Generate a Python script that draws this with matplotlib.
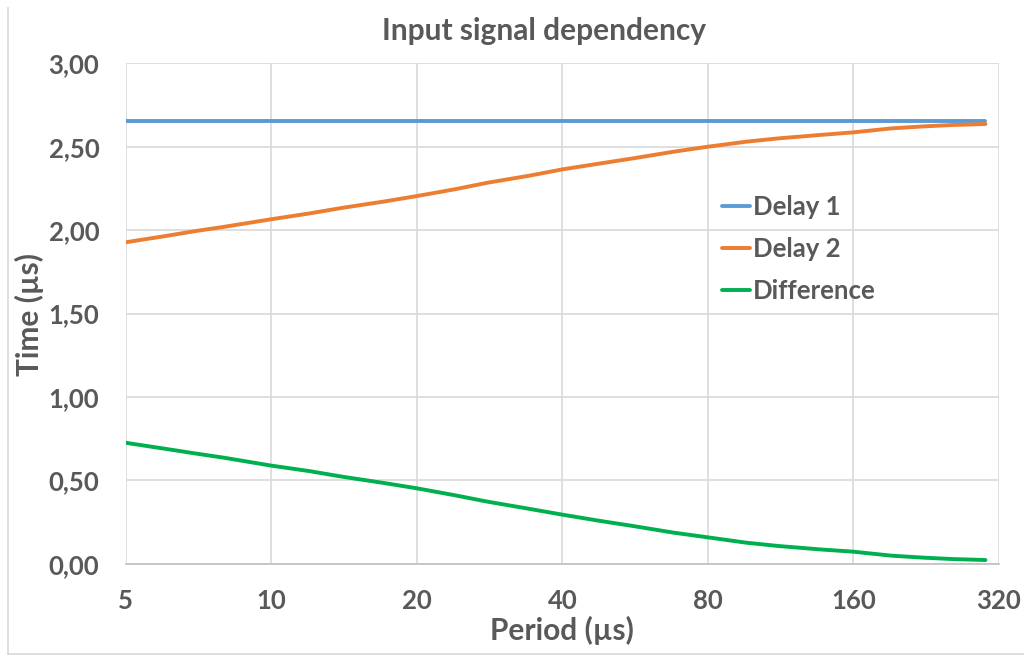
import matplotlib
matplotlib.use("Agg")
import matplotlib.pyplot as plt
from matplotlib.ticker import FuncFormatter, NullLocator
from matplotlib.lines import Line2D

plt.rcParams['font.family'] = ['Lato', 'DejaVu Sans']
plt.rcParams['font.weight'] = 'bold'

# data
period = [5, 6, 7, 8, 10, 12, 14, 17, 20, 24, 28, 34, 40, 48, 56, 68, 80,
          96, 112, 136, 160, 192, 224, 256, 300]
delay1 = [2.655] * len(period)
delay2 = [1.927, 1.963, 1.995, 2.020, 2.065, 2.100, 2.133, 2.170, 2.204,
          2.245, 2.284, 2.325, 2.364, 2.400, 2.430, 2.470, 2.500, 2.530,
          2.550, 2.570, 2.586, 2.610, 2.622, 2.630, 2.636]
difference = [0.725, 0.690, 0.660, 0.635, 0.588, 0.555, 0.522, 0.485, 0.452,
              0.410, 0.372, 0.330, 0.294, 0.256, 0.226, 0.186, 0.158, 0.126,
              0.106, 0.086, 0.072, 0.048, 0.036, 0.028, 0.022]
xticks = [5, 10, 20, 40, 80, 160, 320]
yticks = [0, 0.5, 1.0, 1.5, 2.0, 2.5, 3.0]

grey = '#595959'
W, H = 1024, 655
fig = plt.figure(figsize=(W / 100, H / 100), dpi=100)
ax = fig.add_axes([125.7 / W, 1 - 563.7 / H, (999 - 125.7) / W, (563.7 - 63.3) / H])

ax.plot(period, delay1, color='#5B9BD5', lw=2.8, label='Delay 1', solid_capstyle='round')
ax.plot(period, delay2, color='#ED7D31', lw=2.8, label='Delay 2', solid_capstyle='round')
ax.plot(period, difference, color='#00B050', lw=2.8, label='Difference', solid_capstyle='round')

ax.set_xscale('log', base=2)
ax.set_xlim(5, 320)
ax.set_ylim(0, 3)
ax.set_xticks(xticks)
ax.set_xticklabels([str(t) for t in xticks])
ax.xaxis.set_minor_locator(NullLocator())
ax.set_yticks(yticks)
ax.yaxis.set_major_formatter(FuncFormatter(lambda v, p: f'{v:.2f}'.replace('.', ',')))

ax.grid(True, color='#D9D9D9', lw=1.2)
ax.set_axisbelow(True)
for s in ['top', 'right', 'left']:
    ax.spines[s].set_visible(False)
ax.spines['bottom'].set_color('#BFBFBF')
ax.spines['bottom'].set_linewidth(1.2)
ax.tick_params(length=0, labelsize=18.5, labelcolor=grey)
ax.tick_params(axis='y', pad=19)
ax.tick_params(axis='x', pad=18)

fig.text(544 / W, 1 - 40 / H, 'Input signal dependency', ha='center', va='baseline',
         fontsize=21.5, color=grey, fontweight='bold')
fig.text(561.5 / W, 1 - 640 / H, 'Period (µs)', ha='center', va='baseline',
         fontsize=21.5, color=grey, fontweight='bold')
fig.text(29 / W, 1 - 315 / H, 'Time (µs)', ha='center', va='center', rotation=90,
         fontsize=21.5, color=grey, fontweight='bold')

leg = ax.legend(loc='center left', bbox_to_anchor=(721.7 / W, 1 - 249 / H),
                bbox_transform=fig.transFigure, frameon=False, fontsize=18.5,
                handlelength=1.1, handletextpad=0.12, labelspacing=0.7,
                borderpad=0, borderaxespad=0)
for t in leg.get_texts():
    t.set_color(grey)

# chart area border (left and bottom visible in the reference)
fig.add_artist(Line2D([7.5 / W, 7.5 / W], [1 - 8 / H, 1 - 654 / H], color='#D9D9D9', lw=1.2))
fig.add_artist(Line2D([7.5 / W, 1.0], [1 - 654 / H, 1 - 654 / H], color='#D9D9D9', lw=1.2))

fig.savefig('out.png', dpi=100)
